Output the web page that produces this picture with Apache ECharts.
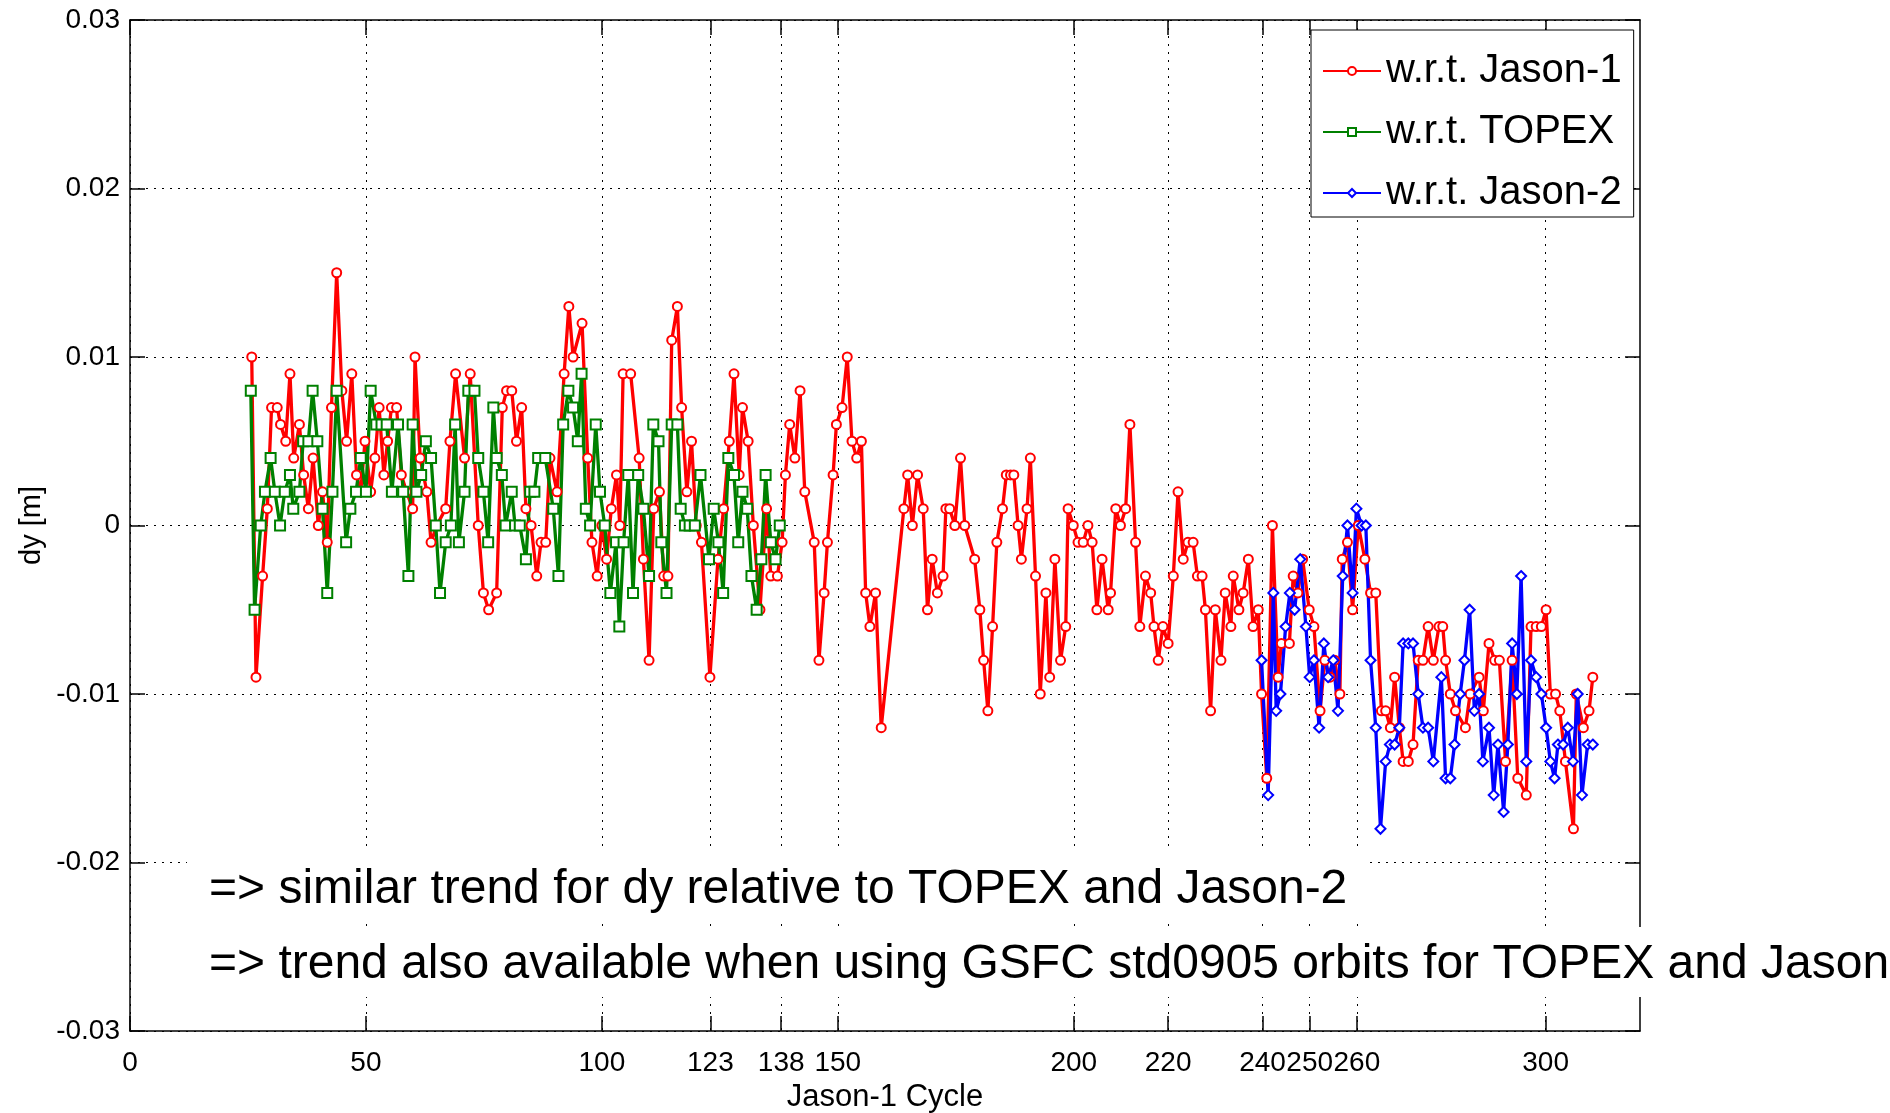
<!DOCTYPE html>
<html>
<head>
<meta charset="utf-8">
<title>dy w.r.t. Jason-1 cycle</title>
<script src="https://cdn.jsdelivr.net/npm/echarts/dist/echarts.min.js"></script>
<style>
  html, body { margin: 0; padding: 0; background: #fff; }
  #main { width: 1890px; height: 1113px; }
</style>
</head>
<body>
<div id="main"></div>
<script>
'use strict'
// x tick positions used on the Jason-1 cycle axis
var xTicks = [0, 50, 100, 123, 138, 150, 200, 220, 240, 250, 260, 300];

// w.r.t. Jason-1 (cycle, dy in m)
var j1Cycle = [25.8, 26.7, 28.1, 29.1, 30, 31.2, 31.9, 33, 33.9, 34.7, 35.9, 36.8, 37.8, 38.8, 39.9, 40.8, 41.8, 42.7, 43.8, 44.9,
    45.9, 47, 48, 48.9, 49.8, 51, 51.9, 52.8, 53.8, 54.6, 55.4, 56.5, 57.5, 58.6, 59.9, 60.4, 61.5, 62.9, 63.8, 65,
    66.9, 67.8, 69, 70.9, 72.1, 73.8, 74.9, 76, 77.7, 78.9, 79.8, 80.9, 81.9, 83, 83.9, 85, 86.2, 87.1, 88.1, 89,
    90.5, 92, 93, 93.9, 95.8, 97, 97.9, 99, 100, 101, 102, 103.1, 103.8, 104.5, 106.1, 107.9, 108.8, 110, 111, 112.2,
    113.1, 114, 114.8, 116, 116.9, 118, 119, 120, 121.1, 122.9, 124.6, 125.8, 127, 128, 129.1, 129.8, 131, 132.1, 133.5, 134.9,
    135.8, 137.2, 138.2, 138.9, 139.8, 140.9, 142, 143, 145, 146, 147.1, 147.8, 149, 149.7, 150.9, 152, 153, 154, 155, 155.9,
    156.8, 158, 159.2, 164, 164.8, 165.8, 166.9, 168.1, 169, 170, 171.1, 172.3, 172.9, 173.7, 174.8, 176, 176.9, 179, 180.1, 180.9,
    181.8, 182.8, 183.7, 184.9, 185.7, 186.6, 187.3, 188.2, 188.9, 190.1, 190.8, 191.9, 192.9, 194.1, 194.9, 196, 197.2, 198.3, 198.8, 199.9,
    200.9, 202, 203, 203.9, 204.9, 206, 207.3, 207.8, 208.9, 209.9, 211, 211.9, 213.1, 214, 215.2, 216.3, 217, 217.9, 218.9, 220,
    221.1, 222.1, 223.2, 224.2, 225.3, 226.2, 227.2, 227.9, 229, 230, 231.2, 232.1, 233.3, 233.8, 235, 235.9, 237, 238, 239.1, 239.8,
    240.9, 242.1, 243.3, 244, 245.7, 246.5, 247.5, 248.5, 249.9, 250.9, 252.2, 253.2, 254.3, 255.3, 256.4, 256.9, 258, 259.1, 260.3, 261.7,
    262.9, 264, 265.2, 266.1, 267.1, 268, 269, 269.8, 270.9, 271.9, 273, 274, 275.1, 276.2, 277.4, 278.2, 278.8, 279.8, 280.9, 283,
    284, 285.9, 286.8, 288, 289.2, 290.2, 291.5, 292.9, 294.1, 295.9, 296.9, 298, 299.1, 300.1, 301, 302.1, 303, 304.2, 305.9, 306.5,
    308, 309.2, 310];
var j1Dy = [0.010, -0.009, -0.003, 0.001, 0.007, 0.007, 0.006, 0.005, 0.009, 0.004, 0.006, 0.003, 0.001, 0.004, 0.000, 0.002, -0.001, 0.007, 0.015, 0.008,
    0.005, 0.009, 0.003, 0.002, 0.005, 0.002, 0.004, 0.007, 0.003, 0.005, 0.007, 0.007, 0.003, 0.002, 0.001, 0.010, 0.004, 0.002, -0.001, 0.000,
    0.001, 0.005, 0.009, 0.004, 0.009, 0.000, -0.004, -0.005, -0.004, 0.007, 0.008, 0.008, 0.005, 0.007, 0.001, 0.000, -0.003, -0.001, -0.001, 0.004,
    0.002, 0.009, 0.013, 0.010, 0.012, 0.004, -0.001, -0.003, 0.000, -0.002, 0.001, 0.003, 0.000, 0.009, 0.009, 0.004, -0.002, -0.008, 0.001, 0.002,
    -0.003, -0.003, 0.011, 0.013, 0.007, 0.002, 0.005, 0.000, -0.001, -0.009, -0.002, 0.001, 0.005, 0.009, 0.003, 0.007, 0.005, 0.000, -0.005, 0.001,
    -0.003, -0.003, -0.001, 0.003, 0.006, 0.004, 0.008, 0.002, -0.001, -0.008, -0.004, -0.001, 0.003, 0.006, 0.007, 0.010, 0.005, 0.004, 0.005, -0.004,
    -0.006, -0.004, -0.012, 0.001, 0.003, 0.000, 0.003, 0.001, -0.005, -0.002, -0.004, -0.003, 0.001, 0.001, 0.000, 0.004, 0.000, -0.002, -0.005, -0.008,
    -0.011, -0.006, -0.001, 0.001, 0.003, 0.003, 0.003, 0.000, -0.002, 0.001, 0.004, -0.003, -0.010, -0.004, -0.009, -0.002, -0.008, -0.006, 0.001, 0.000,
    -0.001, -0.001, 0.000, -0.001, -0.005, -0.002, -0.005, -0.004, 0.001, 0.000, 0.001, 0.006, -0.001, -0.006, -0.003, -0.004, -0.006, -0.008, -0.006, -0.007,
    -0.003, 0.002, -0.002, -0.001, -0.001, -0.003, -0.003, -0.005, -0.011, -0.005, -0.008, -0.004, -0.006, -0.003, -0.005, -0.004, -0.002, -0.006, -0.005, -0.010,
    -0.015, 0.000, -0.009, -0.007, -0.007, -0.003, -0.004, -0.002, -0.005, -0.006, -0.011, -0.008, -0.009, -0.008, -0.010, -0.002, -0.001, -0.005, 0.000, -0.002,
    -0.004, -0.004, -0.011, -0.011, -0.012, -0.009, -0.012, -0.014, -0.014, -0.013, -0.008, -0.008, -0.006, -0.008, -0.006, -0.006, -0.008, -0.010, -0.011, -0.012,
    -0.010, -0.009, -0.011, -0.007, -0.008, -0.008, -0.014, -0.008, -0.015, -0.016, -0.006, -0.006, -0.006, -0.005, -0.010, -0.010, -0.011, -0.014, -0.018, -0.010,
    -0.012, -0.011, -0.009];

// w.r.t. TOPEX
var tpCycle = [25.6, 26.4, 27.7, 28.6, 29.8, 30.7, 31.8, 32.8, 33.9, 34.6, 35.9, 36.7, 37.8, 38.7, 39.7, 40.8, 41.8, 42.9, 43.8, 45.8,
    46.7, 47.9, 48.9, 50, 51, 52.2, 53.3, 54.4, 55.5, 56.8, 57.9, 59, 59.9, 60.7, 61.7, 62.7, 63.8, 64.8, 65.7, 66.9,
    68, 68.9, 69.7, 70.9, 71.7, 73, 73.8, 74.9, 75.9, 77, 77.7, 78.8, 79.6, 80.9, 81.6, 82.6, 83.9, 84.8, 85.7, 86.5,
    88, 89.7, 90.8, 91.8, 92.9, 93.9, 94.9, 95.7, 96.6, 97.5, 98.7, 99.6, 100.6, 101.8, 103, 103.7, 104.6, 105.6, 106.6, 107.7,
    108.8, 110, 110.9, 112, 112.6, 113.7, 114.8, 116, 116.7, 117.6, 118.6, 119.7, 120.9, 122.7, 123.7, 124.7, 125.7, 126.8, 128, 128.9,
    129.8, 130.8, 131.7, 132.8, 133.8, 134.7, 135.8, 136.8, 137.7];
var tpDy = [0.008, -0.005, 0.000, 0.002, 0.004, 0.002, 0.000, 0.002, 0.003, 0.001, 0.002, 0.005, 0.005, 0.008, 0.005, 0.001, -0.004, 0.002, 0.008, -0.001,
    0.001, 0.002, 0.004, 0.002, 0.008, 0.006, 0.006, 0.006, 0.002, 0.006, 0.002, -0.003, 0.006, 0.002, 0.003, 0.005, 0.004, 0.000, -0.004, -0.001,
    0.000, 0.006, -0.001, 0.002, 0.008, 0.008, 0.004, 0.002, -0.001, 0.007, 0.004, 0.003, 0.000, 0.002, 0.000, 0.000, -0.002, 0.002, 0.002, 0.004,
    0.004, 0.001, -0.003, 0.006, 0.008, 0.007, 0.005, 0.009, 0.001, 0.000, 0.006, 0.002, 0.000, -0.004, -0.001, -0.006, -0.001, 0.003, -0.004, 0.003,
    0.001, -0.003, 0.006, 0.005, -0.001, -0.004, 0.006, 0.006, 0.001, 0.000, 0.000, 0.000, 0.003, -0.002, 0.001, -0.001, -0.004, 0.004, 0.003, -0.001,
    0.002, 0.001, -0.003, -0.005, -0.002, 0.003, -0.001, -0.002, 0.000];

// w.r.t. Jason-2
var j2Cycle = [239.8, 241.2, 242.3, 242.9, 243.8, 244.9, 245.8, 246.8, 248, 249.2, 250, 250.9, 252, 253, 253.9, 255, 256, 257, 258, 259.1,
    259.9, 261, 261.9, 262.9, 264, 265, 266.1, 267, 268, 269, 269.8, 270.9, 271.9, 273, 274, 275.1, 276.2, 277.9, 278.8, 279.8,
    280.7, 281.9, 282.8, 283.9, 284.9, 285.9, 286.7, 288, 289, 289.9, 291.1, 292, 292.9, 293.9, 294.8, 295.9, 296.9, 298, 299.1, 300.1,
    301, 301.9, 302.6, 303.7, 304.7, 305.8, 306.8, 307.7, 308.9, 310];
var j2Dy = [-0.008, -0.016, -0.004, -0.011, -0.010, -0.006, -0.004, -0.005, -0.002, -0.006, -0.009, -0.008, -0.012, -0.007, -0.009, -0.008, -0.011, -0.003, 0.000, -0.004,
    0.001, 0.000, 0.000, -0.008, -0.012, -0.018, -0.014, -0.013, -0.013, -0.012, -0.007, -0.007, -0.007, -0.010, -0.012, -0.012, -0.014, -0.009, -0.015, -0.015,
    -0.013, -0.010, -0.008, -0.005, -0.011, -0.010, -0.014, -0.012, -0.016, -0.013, -0.017, -0.013, -0.007, -0.010, -0.003, -0.014, -0.008, -0.009, -0.010, -0.012,
    -0.014, -0.015, -0.013, -0.013, -0.012, -0.014, -0.010, -0.016, -0.013, -0.013];

var note1 = '=> similar trend for dy relative to TOPEX and Jason-2';
var note2 = '=> trend also available when using GSFC std0905 orbits for TOPEX and Jason';

function pairs(xs, ys) {
    return xs.map(function (x, i) { return [x, ys[i]]; });
}

var FONT = '"Liberation Sans", Arial, Helvetica, sans-serif';
var gridDots = { type: [2, 6], color: '#000', width: 1 };
var boxLine = { color: '#000', width: 1.5 };

var option = {
    animation: false,
    backgroundColor: '#fff',
    textStyle: { fontFamily: FONT },
    grid: {
        left: 130,
        right: 250,
        top: 20,
        bottom: 82,
        outerBoundsMode: 'none'
    },
    legend: {
        orient: 'vertical',
        left: 1311,
        top: 30,
        backgroundColor: '#fff',
        borderColor: '#000',
        borderWidth: 1,
        padding: [20, 12, 3, 11],
        itemWidth: 58,
        itemHeight: 10,
        itemGap: 19,
        textStyle: { fontSize: 40, color: '#000', fontFamily: FONT, lineHeight: 42 },
        data: ['w.r.t. Jason-1', 'w.r.t. TOPEX', 'w.r.t. Jason-2']
    },
    xAxis: [
        {
            type: 'value',
            min: 0,
            max: 320,
            position: 'bottom',
            name: 'Jason-1 Cycle',
            nameLocation: 'middle',
            nameGap: 51,
            nameMoveOverlap: false,
            nameTextStyle: { fontSize: 31, color: '#000', fontFamily: FONT },
            axisLine: { show: true, onZero: false, lineStyle: boxLine },
            axisTick: { show: true, inside: true, length: 15, customValues: xTicks, lineStyle: boxLine },
            axisLabel: { customValues: xTicks, fontSize: 28, color: '#000', margin: 18, fontFamily: FONT, hideOverlap: false },
            splitLine: { show: true, lineStyle: gridDots }
        },
        {
            type: 'value',
            min: 0,
            max: 320,
            position: 'top',
            axisLine: { show: true, onZero: false, lineStyle: boxLine },
            axisTick: { show: true, inside: true, length: 15, customValues: xTicks, lineStyle: boxLine },
            axisLabel: { show: false },
            splitLine: { show: false }
        }
    ],
    yAxis: [
        {
            type: 'value',
            min: -0.03,
            max: 0.03,
            interval: 0.01,
            position: 'left',
            name: 'dy [m]',
            nameLocation: 'middle',
            nameGap: 84,
            nameMoveOverlap: false,
            nameTextStyle: { fontSize: 29, color: '#000', fontFamily: FONT },
            axisLine: { show: true, onZero: false, lineStyle: boxLine },
            axisTick: { show: true, inside: true, length: 15, lineStyle: boxLine },
            axisLabel: { fontSize: 28, color: '#000', margin: 10, fontFamily: FONT, padding: [8, 0, 0, 0] },
            splitLine: { show: true, lineStyle: gridDots }
        },
        {
            type: 'value',
            min: -0.03,
            max: 0.03,
            interval: 0.01,
            position: 'right',
            axisLine: { show: true, onZero: false, lineStyle: boxLine },
            axisTick: { show: true, inside: true, length: 15, lineStyle: boxLine },
            axisLabel: { show: false },
            splitLine: { show: false }
        }
    ],
    series: [
        {
            name: 'w.r.t. Jason-1',
            type: 'line',
            data: pairs(j1Cycle, j1Dy),
            symbol: 'emptyCircle',
            symbolSize: 9,
            color: '#ff0000',
            lineStyle: { width: 3.3, color: '#ff0000' },
            itemStyle: { color: '#ff0000', borderWidth: 2.2 }
        },
        {
            name: 'w.r.t. TOPEX',
            type: 'line',
            data: pairs(tpCycle, tpDy),
            symbol: 'emptyRect',
            symbolSize: 10,
            color: '#008000',
            lineStyle: { width: 3.3, color: '#008000' },
            itemStyle: { color: '#008000', borderWidth: 2.5 }
        },
        {
            name: 'w.r.t. Jason-2',
            type: 'line',
            data: pairs(j2Cycle, j2Dy),
            symbol: 'emptyDiamond',
            symbolSize: 10,
            color: '#0000ff',
            lineStyle: { width: 3.3, color: '#0000ff' },
            itemStyle: { color: '#0000ff', borderWidth: 2.2 }
        }
    ],
    graphic: [
        {
            type: 'text',
            left: 187,
            top: 852,
            z: 100,
            style: {
                text: note1,
                font: '48px ' + FONT,
                fill: '#000',
                backgroundColor: '#fff',
                padding: [14, 22, 8, 22]
            }
        },
        {
            type: 'text',
            left: 187,
            top: 927,
            z: 100,
            style: {
                text: note2,
                font: '48px ' + FONT,
                fill: '#000',
                backgroundColor: '#fff',
                padding: [14, 40, 8, 22]
            }
        }
    ]
};

var myChart = echarts.init(document.getElementById('main'));
myChart.setOption(option);
</script>
</body>
</html>
